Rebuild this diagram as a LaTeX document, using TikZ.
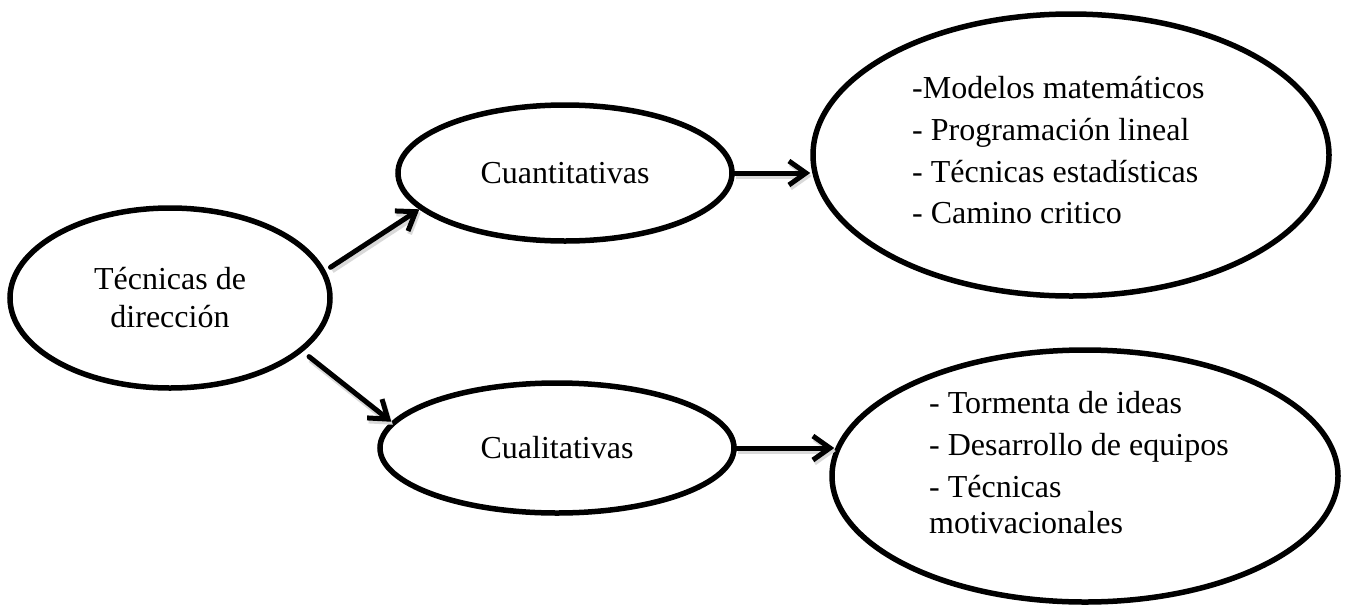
\documentclass[tikz,border=0pt]{standalone}
\usepackage{fontspec}
\setmainfont{Liberation Serif}
\usetikzlibrary{shapes.geometric,arrows.meta}
\begin{document}
\begin{tikzpicture}[x=1pt,y=-1pt,
  oval/.style={draw, ellipse, line width=5.5pt, inner sep=0pt},
  txt/.style={font=\fontsize{32}{38}\selectfont, inner sep=0pt},
  item/.style={txt, anchor=base west},
  arr/.style={line width=5pt, line cap=round, line join=round,
    -{Straight Barb[length=17pt,width=24pt,line width=5pt]},
    preaction={draw=black!15, line width=6pt,
      transform canvas={shift={(1.5pt,-3pt)}}}}]
\useasboundingbox (0,0) rectangle (1349,611);

% main ellipses
\node[oval, minimum width=320pt, minimum height=180pt, txt, align=center]
  (tec) at (170,298) {Técnicas de\\dirección};
\node[oval, minimum width=334pt, minimum height=136pt, txt]
  (cuan) at (565,173) {Cuantitativas};
\node[oval, minimum width=354pt, minimum height=130pt, txt]
  (cual) at (557,448) {Cualitativas};
\node[oval, minimum width=516pt, minimum height=282pt] (mod) at (1071,155) {};
\node[oval, minimum width=506pt, minimum height=252pt] (qual) at (1085,476) {};

% quantitative techniques
\node[item] (m1) at (912,98)  {-Modelos matemáticos};
\node[item] (m2) at (912,140) {- Programación lineal};
\node[item] (m3) at (912,182) {- Técnicas estadísticas};
\node[item] (m4) at (912,223) {- Camino critico};

% qualitative techniques
\node[item] (q1) at (929,413) {- Tormenta de ideas};
\node[item] (q2) at (929,455) {- Desarrollo de equipos};
\node[item] (q3) at (929,497) {- Técnicas};
\node[item] (q4) at (929,533) {motivacionales};

% connectors
\draw[arr, shorten <=6pt] (tec.10) -- (cuan.194);
\draw[arr, shorten <=8pt] (tec.-22) -- (cual.171);
\draw[arr] (cuan.east) -- (cuan.east -| mod.west);
\draw[arr, shorten >=-5pt] (cual.east) -- (cual.east -| qual.west);
\end{tikzpicture}
\end{document}
